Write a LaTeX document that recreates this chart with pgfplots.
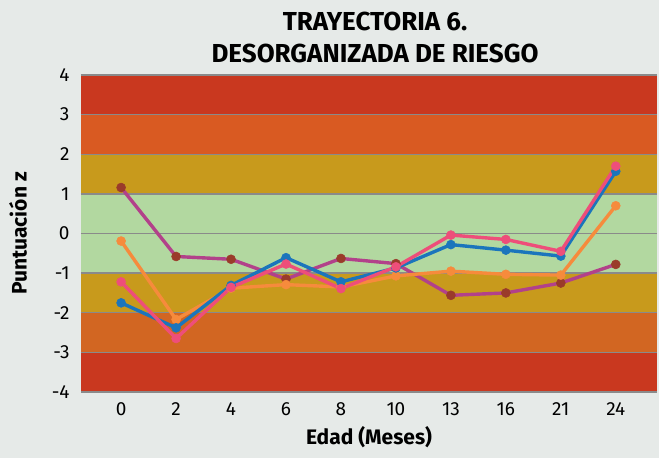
\documentclass[border=0pt]{standalone}
\usepackage{pgfplots}
\pgfplotsset{compat=1.18}
\usepackage{fontspec}
\setmainfont{Fira Sans}
\definecolor{bgc}{HTML}{E6EAE8}
\definecolor{bdred}{HTML}{C9381F}
\definecolor{bdorangeup}{HTML}{D95A22}
\definecolor{bdorangelo}{HTML}{D26622}
\definecolor{bdgold}{HTML}{C89A1C}
\definecolor{bdgreen}{HTML}{B2D8A0}
\definecolor{gridc}{HTML}{8A8A8A}
\definecolor{sblue}{HTML}{1B75BC}
\definecolor{spink}{HTML}{EE4E7A}
\definecolor{sorange}{HTML}{F68B3C}
\definecolor{spurple}{HTML}{B2418A}
\definecolor{sbrown}{HTML}{9A3B2A}

\pgfplotstableread{
x purple orange blue pink
0  1.16 -0.19 -1.75 -1.22
1 -0.58 -2.17 -2.38 -2.65
2 -0.65 -1.38 -1.31 -1.36
3 -1.15 -1.29 -0.61 -0.77
4 -0.63 -1.35 -1.22 -1.39
5 -0.76 -1.07 -0.87 -0.84
6 -1.56 -0.95 -0.28 -0.04
7 -1.50 -1.03 -0.42 -0.15
8 -1.25 -1.05 -0.57 -0.45
9 -0.78  0.70  1.57  1.70
}\datatable

\begin{document}
\begin{tikzpicture}
\path[use as bounding box, fill=bgc] (-81pt,-66pt) rectangle (578pt,392pt);
\begin{axis}[
  at={(0,0)}, anchor=south west,
  scale only axis, width=576pt, height=317pt,
  xmin=-0.73, xmax=9.75, ymin=-4, ymax=4,
  xtick={0,...,9}, xticklabels={0,2,4,6,8,10,13,16,21,24},
  ytick={-4,...,4},
  major tick length=0pt,
  axis line style={draw=none},
  /pgf/number format/assume math mode=true,
  tick label style={font=\fontsize{19}{21}\selectfont},
  yticklabel style={xshift=-8pt},
  xticklabel style={yshift=-7pt},
  xlabel={\bfseries Edad (Meses)},
  ylabel={\bfseries Puntuación z},
  label style={font=\fontsize{21}{24}\selectfont},
  xlabel style={yshift=-4pt},
  ylabel style={yshift=18pt},
  title={\bfseries TRAYECTORIA 6.\\\bfseries DESORGANIZADA DE RIESGO},
  title style={align=center, font=\fontsize{26}{32}\selectfont, xshift=6pt, yshift=3pt},
  clip=false,
]
% bandas de riesgo
\addplot[draw=none, fill=bdred] coordinates {(-0.73,3) (9.75,3) (9.75,4) (-0.73,4)};
\addplot[draw=none, fill=bdorangeup] coordinates {(-0.73,2) (9.75,2) (9.75,3) (-0.73,3)};
\addplot[draw=none, fill=bdgold] coordinates {(-0.73,1) (9.75,1) (9.75,2) (-0.73,2)};
\addplot[draw=none, fill=bdgreen] coordinates {(-0.73,-1) (9.75,-1) (9.75,1) (-0.73,1)};
\addplot[draw=none, fill=bdgold] coordinates {(-0.73,-2) (9.75,-2) (9.75,-1) (-0.73,-1)};
\addplot[draw=none, fill=bdorangelo] coordinates {(-0.73,-3) (9.75,-3) (9.75,-2) (-0.73,-2)};
\addplot[draw=none, fill=bdred] coordinates {(-0.73,-4) (9.75,-4) (9.75,-3) (-0.73,-3)};
% lineas de cuadricula
\foreach \g in {-4,...,4} {
  \addplot[gridc, line width=1.3pt] coordinates {(-0.73,\g) (9.75,\g)};
}
% series
\addplot[spurple, line width=3.4pt, mark=*, mark size=4.5pt, mark options={fill=sbrown, draw=sbrown, line width=0.5pt}] table[x=x, y=purple] {\datatable};
\addplot[sorange, line width=3.4pt, mark=*, mark size=4.5pt, mark options={fill=sorange, line width=0.5pt}] table[x=x, y=orange] {\datatable};
\addplot[sblue, line width=3.4pt, mark=*, mark size=4.5pt, mark options={fill=sblue, line width=0.5pt}] table[x=x, y=blue] {\datatable};
\addplot[spink, line width=3.4pt, mark=*, mark size=4.5pt, mark options={fill=spink, line width=0.5pt}] table[x=x, y=pink] {\datatable};
\end{axis}
\end{tikzpicture}
\end{document}
